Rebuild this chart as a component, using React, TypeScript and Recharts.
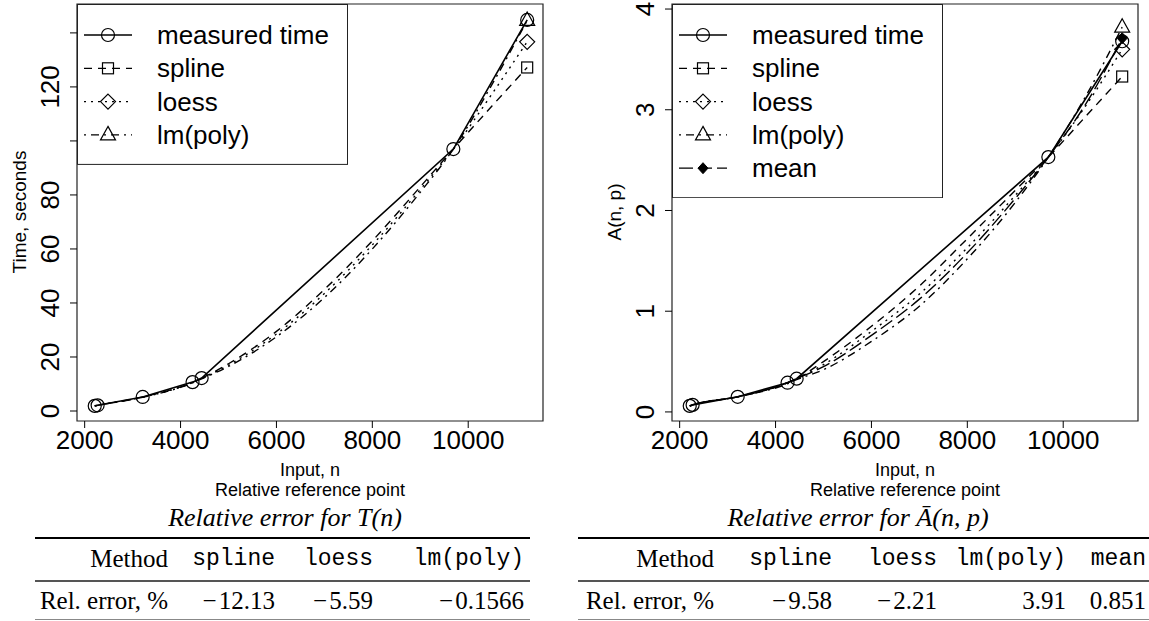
import React from "react";
import { LineChart, Line, XAxis, YAxis, ReferenceArea, Legend } from "recharts";

// input sizes n (shared by both panels); the last one is the relative reference point
const nValues = [2210, 2270, 3210, 4250, 4440, 5000, 6000, 7000, 8000, 9000, 9690, 10500, 11230];
const refPoint = 11230;

// T(n), seconds
const timeMeasured = [1.9, 2.1, 5.2, 10.7, 12.2, null, null, null, null, null, 97.0, null, 144.8];
const timeSpline = [1.9, 2.1, 5.2, 10.6, 12.1, 17.5, 29.5, 45.0, 63.0, 83.0, 97.0, 113.0, 127.2];
const timeLoess = [1.9, 2.1, 5.1, 10.5, 12.0, 17.0, 28.5, 43.5, 61.5, 82.0, 97.0, 117.5, 136.7];
const timeLm = [1.9, 2.1, 5.1, 10.4, 11.9, 16.5, 27.5, 42.0, 60.0, 81.0, 97.0, 121.0, 144.6];

// A(n, p)
const aMeasured = [0.06, 0.07, 0.15, 0.29, 0.33, null, null, null, null, null, 2.53, null, 3.68];
const aSpline = [0.06, 0.07, 0.15, 0.29, 0.33, 0.5, 0.85, 1.25, 1.72, 2.2, 2.53, 2.95, 3.33];
const aLoess = [0.06, 0.07, 0.15, 0.29, 0.33, 0.47, 0.8, 1.17, 1.63, 2.15, 2.53, 3.06, 3.6];
const aLm = [0.06, 0.07, 0.15, 0.28, 0.32, 0.42, 0.7, 1.05, 1.52, 2.08, 2.53, 3.16, 3.82];
const aMean = [0.06, 0.07, 0.15, 0.29, 0.33, 0.45, 0.76, 1.12, 1.58, 2.12, 2.53, 3.08, 3.71];

const xTicks = [2000, 4000, 6000, 8000, 10000];
const timeTicks = [0, 20, 40, 60, 80, 100, 120, 140];
const timeTickLabels = [0, 20, 40, 60, 80, 120];
const aTicks = [0, 1, 2, 3, 4];

// relative error tables
const timeMethods = ["spline", "loess", "lm(poly)"];
const timeErrors = ["\u2212\u200A12.13", "\u2212\u200A5.59", "\u2212\u200A0.1566"];
const aMethods = ["spline", "loess", "lm(poly)", "mean"];
const aErrors = ["\u2212\u200A9.58", "\u2212\u200A2.21", "3.91", "0.851"];

const X_DOMAIN = [1840, 11560];
const SANS = '"Liberation Sans", Arial, Helvetica, sans-serif';
const SERIF = '"Liberation Serif", "Times New Roman", serif';
const MONO = '"Liberation Mono", "Courier New", monospace';

const DASH = {
  solid: undefined,
  dashed: "8 6",
  dotted: "2 5",
  dotdash: "2 5 8 5",
  longdash: "14 5",
};

const marker = (kind: string, cx: number, cy: number, key?: any) => {
  const common = { fill: "none", stroke: "#000", strokeWidth: 1.2 };
  switch (kind) {
    case "circle":
      return <circle key={key} cx={cx} cy={cy} r={6.5} {...common} />;
    case "square":
      return <rect key={key} x={cx - 5.5} y={cy - 5.5} width={11} height={11} {...common} />;
    case "diamond":
      return (
        <polygon
          key={key}
          points={`${cx},${cy - 7.5} ${cx + 7.5},${cy} ${cx},${cy + 7.5} ${cx - 7.5},${cy}`}
          {...common}
        />
      );
    case "triangle":
      return (
        <polygon
          key={key}
          points={`${cx},${cy - 8.5} ${cx + 7.5},${cy + 5} ${cx - 7.5},${cy + 5}`}
          {...common}
        />
      );
    case "fdiamond":
      return (
        <polygon
          key={key}
          points={`${cx},${cy - 5.5} ${cx + 5},${cy} ${cx},${cy + 5.5} ${cx - 5},${cy}`}
          fill="#000"
          stroke="#000"
        />
      );
    default:
      return <g key={key} />;
  }
};

type Series = { key: string; label: string; dash: string; shape: string; all?: boolean };

const timeSeries: Series[] = [
  { key: "spline", label: "spline", dash: "dashed", shape: "square" },
  { key: "loess", label: "loess", dash: "dotted", shape: "diamond" },
  { key: "lm", label: "lm(poly)", dash: "dotdash", shape: "triangle" },
  { key: "measured", label: "measured time", dash: "solid", shape: "circle", all: true },
];

const aSeries: Series[] = [
  { key: "spline", label: "spline", dash: "dashed", shape: "square" },
  { key: "loess", label: "loess", dash: "dotted", shape: "diamond" },
  { key: "lm", label: "lm(poly)", dash: "dotdash", shape: "triangle" },
  { key: "mean", label: "mean", dash: "longdash", shape: "fdiamond" },
  { key: "measured", label: "measured time", dash: "solid", shape: "circle", all: true },
];

const timeData = nValues.map((n, i) => ({
  n,
  measured: timeMeasured[i],
  spline: timeSpline[i],
  loess: timeLoess[i],
  lm: timeLm[i],
}));

const aData = nValues.map((n, i) => ({
  n,
  measured: aMeasured[i],
  spline: aSpline[i],
  loess: aLoess[i],
  lm: aLm[i],
  mean: aMean[i],
}));

const XTick = (props: any) => {
  const { x, y, payload } = props;
  return (
    <text x={x} y={y + 21} textAnchor="middle" fontSize={26} fontFamily={SANS} fill="#000">
      {payload.value}
    </text>
  );
};

const makeYTick = (labels: number[]) => (props: any) => {
  const { x, y, payload } = props;
  if (!labels.includes(payload.value)) return <g />;
  return (
    <text
      transform={`translate(${x - 20},${y}) rotate(-90)`}
      textAnchor="middle"
      dominantBaseline="central"
      fontSize={26}
      fontFamily={SANS}
      fill="#000"
    >
      {payload.value}
    </text>
  );
};

const LegendBox = ({ series }: { series: Series[] }) => {
  // legend order: measured first, then the fits
  const items = [series[series.length - 1], ...series.slice(0, -1)];
  const rowH = 33.3;
  const h = 61 + (items.length - 1) * rowH;
  return (
    <svg width={271} height={h} style={{ display: "block" }}>
      <rect x={0.5} y={0.5} width={270} height={h - 1} fill="#fff" stroke="#222" />
      {items.map((s, i) => {
        const cy = 31 + i * rowH;
        return (
          <g key={s.key}>
            <line x1={7} x2={55} y1={cy} y2={cy} stroke="#000" strokeWidth={1.3} strokeDasharray={DASH[s.dash]} />
            {marker(s.shape, 31, cy)}
            <text x={80} y={cy + 9} fontSize={26} fontFamily={SANS} fill="#000">
              {s.label}
            </text>
          </g>
        );
      })}
    </svg>
  );
};

const Panel = ({
  left,
  data,
  series,
  yDomain,
  yTicks,
  yLabels,
  yTitle,
}: {
  left: number;
  data: any[];
  series: Series[];
  yDomain: number[];
  yTicks: number[];
  yLabels: number[];
  yTitle: string;
}) => (
  <div style={{ position: "absolute", left, top: 0 }}>
    <LineChart width={560} height={500} data={data} margin={{ top: 4, right: 17, bottom: 0, left: 17 }}>
      <XAxis
        type="number"
        dataKey="n"
        domain={X_DOMAIN}
        ticks={xTicks}
        interval={0}
        allowDataOverflow
        height={79}
        axisLine={false}
        tickSize={7}
        tickMargin={0}
        tickLine={{ stroke: "#000" }}
        tick={<XTick />}
        label={{
          content: () => (
            <g fontFamily={SANS} fontSize={18} fill="#000">
              <text x={310} y={476} textAnchor="middle">
                Input, n
              </text>
              <text x={310} y={496} textAnchor="middle">
                Relative reference point
              </text>
            </g>
          ),
        }}
      />
      <YAxis
        type="number"
        domain={yDomain}
        ticks={yTicks}
        interval={0}
        allowDataOverflow
        width={60}
        axisLine={false}
        tickSize={7}
        tickMargin={0}
        tickLine={{ stroke: "#000" }}
        tick={makeYTick(yLabels)}
        label={{
          content: () => (
            <text
              transform={`translate(19,212) rotate(-90)`}
              textAnchor="middle"
              dominantBaseline="central"
              fontFamily={SANS}
              fontSize={19}
              fill="#000"
            >
              {yTitle}
            </text>
          ),
        }}
      />
      <ReferenceArea
        x1={X_DOMAIN[0]}
        x2={X_DOMAIN[1]}
        y1={yDomain[0]}
        y2={yDomain[1]}
        fill="none"
        stroke="#222"
        strokeWidth={1.2}
      />
      {series.map((s) => (
        <Line
          key={s.key}
          dataKey={s.key}
          type={s.all ? "linear" : "monotone"}
          connectNulls
          stroke="#000"
          strokeWidth={s.all ? 1.6 : 1.4}
          strokeDasharray={DASH[s.dash]}
          isAnimationActive={false}
          activeDot={false}
          dot={(p: any) =>
            p.value != null && p.cy != null && (s.all || p.payload.n === refPoint) ? (
              marker(s.shape, p.cx, p.cy, p.index)
            ) : (
              <g key={p.index} />
            )
          }
        />
      ))}
      <Legend
        layout="horizontal"
        verticalAlign="middle"
        align="center"
        content={() => <LegendBox series={series} />}
        wrapperStyle={{ left: 77, top: 4, width: 271 }}
      />
    </LineChart>
  </div>
);

const Cell = ({ right, top, font, size, children }: any) => (
  <span
    style={{
      position: "absolute",
      right: 1149 - right,
      top: top - 14,
      lineHeight: "28px",
      fontFamily: font,
      fontSize: size,
      whiteSpace: "nowrap",
      color: "#000",
    }}
  >
    {children}
  </span>
);

const Rule = ({ x1, x2, y, w, color }: any) => (
  <div style={{ position: "absolute", left: x1, top: y, width: x2 - x1, height: w, background: color }} />
);

const ErrorTable = ({
  caption,
  captionX,
  x1,
  x2,
  firstRight,
  colRights,
  methods,
  errors,
}: any) => (
  <>
    <div
      style={{
        position: "absolute",
        left: captionX - 200,
        width: 400,
        top: 504,
        lineHeight: "28px",
        textAlign: "center",
        fontFamily: SERIF,
        fontSize: 26,
        fontStyle: "italic",
      }}
    >
      {caption}
    </div>
    <Rule x1={x1} x2={x2} y={537} w={2} color="#000" />
    <Cell right={firstRight} top={559} font={SERIF} size={25}>
      Method
    </Cell>
    {methods.map((m: string, i: number) => (
      <Cell key={m} right={colRights[i]} top={559} font={MONO} size={23}>
        {m}
      </Cell>
    ))}
    <Rule x1={x1} x2={x2} y={580} w={1.5} color="#555" />
    <Cell right={firstRight} top={601} font={SERIF} size={25}>
      Rel. error, %
    </Cell>
    {errors.map((e: string, i: number) => (
      <Cell key={i} right={colRights[i]} top={601} font={SERIF} size={25}>
        {e}
      </Cell>
    ))}
    <Rule x1={x1} x2={x2} y={619} w={1} color="#888" />
  </>
);

export default function App() {
  return (
    <div
      style={{
        position: "absolute",
        left: 0,
        top: 0,
        width: 1149,
        height: 621,
        overflow: "hidden",
        background: "#fff",
      }}
    >
      <Panel
        left={0}
        data={timeData}
        series={timeSeries}
        yDomain={[-3.7, 150.7]}
        yTicks={timeTicks}
        yLabels={timeTickLabels}
        yTitle="Time, seconds"
      />
      <Panel
        left={595}
        data={aData}
        series={aSeries}
        yDomain={[-0.09, 4.05]}
        yTicks={aTicks}
        yLabels={aTicks}
        yTitle="A(n, p)"
      />
      <ErrorTable
        caption={
          <>
            Relative error for T(<i>n</i>)
          </>
        }
        captionX={285}
        x1={35}
        x2={530}
        firstRight={168}
        colRights={[275, 373, 524]}
        methods={timeMethods}
        errors={timeErrors}
      />
      <ErrorTable
        caption={
          <>
            Relative error for {"\u0100"}(<i>n</i>, <i>p</i>)
          </>
        }
        captionX={858}
        x1={578}
        x2={1149}
        firstRight={714}
        colRights={[832, 937, 1066, 1146]}
        methods={aMethods}
        errors={aErrors}
      />
    </div>
  );
}
